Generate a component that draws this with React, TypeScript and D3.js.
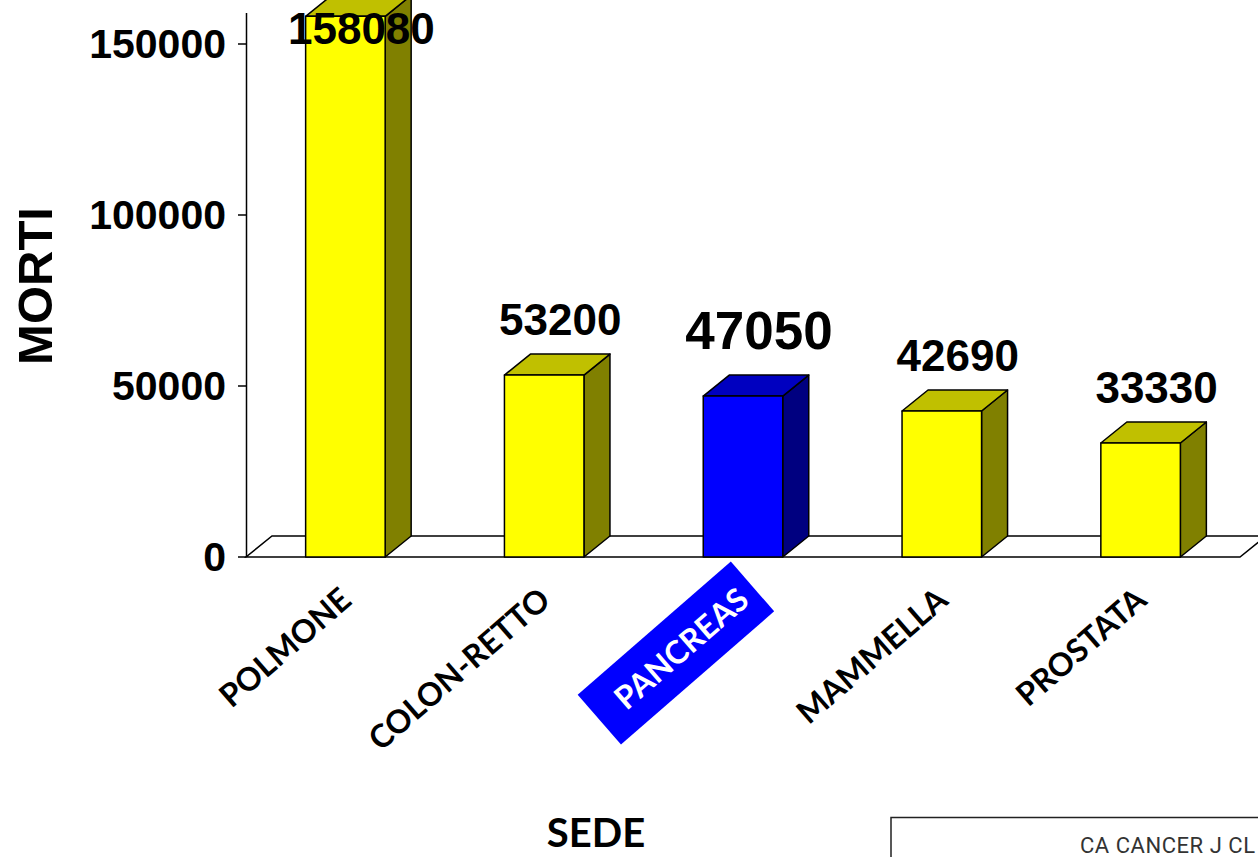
import React from "react";
import * as d3 from "d3";

// Deaths by cancer site
const categories = ["POLMONE", "COLON-RETTO", "PANCREAS", "MAMMELLA", "PROSTATA"];
const deaths = [158080, 53200, 47050, 42690, 33330];
const highlighted = ["PANCREAS"];
const yTicks = [0, 50000, 100000, 150000];
const sourceText = "CA CANCER J CL";

const W = 1258;
const H = 857;
const DX = 26; // 3D depth, horizontal
const DY = 21; // 3D depth, vertical

const NUM_FONT = "'Liberation Sans', Arial, Helvetica, sans-serif";
const CAT_FONT = "Lato, 'Open Sans', sans-serif";

export default function App() {
  const x = d3
    .scaleBand<string>()
    .domain(categories)
    .range([246, 1240])
    .paddingInner(0.6)
    .paddingOuter(0.3);
  const y = d3.scaleLinear().domain([0, 150000]).range([557, 44]);
  const y0 = y(0);
  const bw = x.bandwidth();
  const angle = -41;

  return (
    <svg
      width={W}
      height={H}
      style={{ position: "absolute", left: 0, top: 0, background: "#fff" }}
    >
      {/* floor */}
      <polygon
        points={`${x.range()[0]},${y0} ${x.range()[1]},${y0} ${x.range()[1] + DX},${y0 - DY} ${x.range()[0] + DX},${y0 - DY}`}
        fill="#fff"
        stroke="#000"
        strokeWidth={1.5}
      />
      {/* y axis */}
      <line x1={246.5} x2={246.5} y1={13} y2={y0} stroke="#000" strokeWidth={1.5} />
      {yTicks.map((t) => (
        <g key={t}>
          <line x1={238} x2={246.5} y1={y(t)} y2={y(t)} stroke="#000" strokeWidth={1.5} />
          <text
            x={226}
            y={y(t)}
            dy="0.35em"
            textAnchor="end"
            fontFamily={NUM_FONT}
            fontWeight="bold"
            fontSize={41}
            fill="#000"
          >
            {t}
          </text>
        </g>
      ))}
      <text
        transform={`translate(52,286) rotate(-90)`}
        textAnchor="middle"
        fontFamily={NUM_FONT}
        fontWeight="bold"
        fontSize={49}
        fill="#000"
      >
        MORTI
      </text>

      {/* bars */}
      {categories.map((c, i) => {
        const v = deaths[i];
        const x0 = x(c)!;
        const x1 = x0 + bw;
        const yv = y(v);
        const hi = highlighted.includes(c);
        const front = hi ? "#0000FF" : "#FFFF00";
        const top = hi ? "#0000C0" : "#C0C000";
        const side = hi ? "#000080" : "#808000";
        return (
          <g key={c} stroke="#000" strokeWidth={1.5} strokeLinejoin="round">
            <polygon
              points={`${x1},${yv} ${x1 + DX},${yv - DY} ${x1 + DX},${y0 - DY} ${x1},${y0}`}
              fill={side}
            />
            <polygon
              points={`${x0},${yv} ${x0 + DX},${yv - DY} ${x1 + DX},${yv - DY} ${x1},${yv}`}
              fill={top}
            />
            <rect x={x0} y={yv} width={bw} height={y0 - yv} fill={front} />
          </g>
        );
      })}

      {/* value labels */}
      {categories.map((c, i) => {
        const v = deaths[i];
        const hi = highlighted.includes(c);
        const cx = x(c)! + bw / 2 + DX / 2 + 3;
        const base = Math.max(y(v) - DY - (hi ? 26 : 19), 44);
        return (
          <text
            key={c}
            x={cx}
            y={base}
            textAnchor="middle"
            fontFamily={NUM_FONT}
            fontWeight="bold"
            fontSize={hi ? 53 : 44}
            fill="#000"
          >
            {v}
          </text>
        );
      })}

      {/* category labels */}
      {categories.map((c) => {
        const hi = highlighted.includes(c);
        const ax = x(c)! + bw / 2 + 8;
        const ay = 603;
        const fs = 32;
        return (
          <g key={c} transform={`translate(${ax},${ay}) rotate(${angle})`}>
            {hi && (
              <rect
                x={-c.length * fs * 0.66 - 22}
                y={-fs * 0.36 - 33}
                width={c.length * fs * 0.66 + 34}
                height={66}
                fill="#0000FF"
              />
            )}
            <text
              textAnchor="end"
              fontFamily={CAT_FONT}
              fontWeight="bold"
              fontSize={fs}
              fill={hi ? "#fff" : "#000"}
            >
              {c}
            </text>
          </g>
        );
      })}

      {/* x axis title */}
      <text
        x={596}
        y={847}
        textAnchor="middle"
        fontFamily={CAT_FONT}
        fontWeight="bold"
        fontSize={40}
        fill="#000"
      >
        SEDE
      </text>

      {/* source box */}
      <rect x={891} y={817.5} width={400} height={80} fill="#fff" stroke="#222" strokeWidth={1.5} />
      <text
        x={1080}
        y={853}
        fontFamily="Roboto, 'Noto Sans', sans-serif"
        fontSize={22}
        fill="#333"
        textLength={175}
        lengthAdjust="spacing"
      >
        {sourceText}
      </text>
    </svg>
  );
}
